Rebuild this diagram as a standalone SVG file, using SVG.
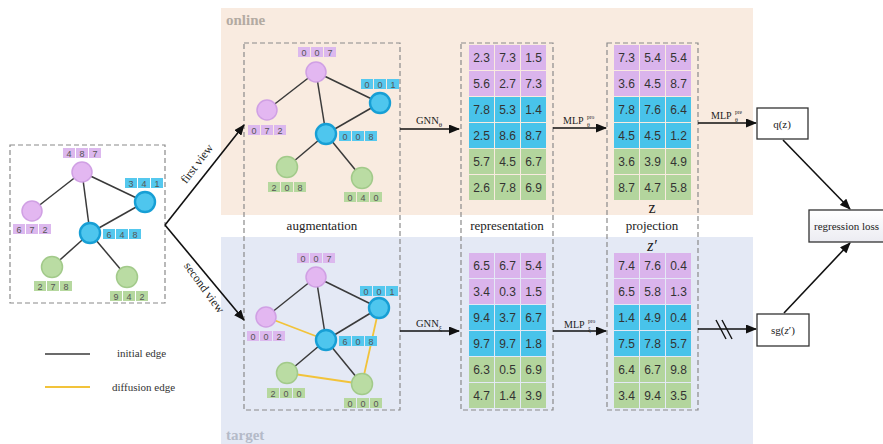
<svg xmlns="http://www.w3.org/2000/svg" width="883" height="444" viewBox="0 0 883 444">
<style>
.sans{font-family:"Liberation Sans",Arial,sans-serif}
.serif{font-family:"Liberation Serif","Times New Roman",serif}
.dash{fill:none;stroke:#8a8a8a;stroke-width:1.2;stroke-dasharray:5,3}
.np{fill:#e3b7f1;stroke:#d0a0e4;stroke-width:1.5}
.nb{fill:#4ec6ee;stroke:#179fd5;stroke-width:2.4}
.ng{fill:#badca3;stroke:#a2ca8a;stroke-width:1.5}
.lp{fill:#dcb8ee}
.lb{fill:#55c8ee}
.lg{fill:#b6d89f}
.lt{font-family:"Liberation Sans",Arial,sans-serif;font-size:9px;fill:#555;text-anchor:middle}
.e{stroke:#3a3a3a;stroke-width:1.5}
.y{stroke:#f2c33a;stroke-width:1.8}
.cp{fill:#dab4ec}
.cb{fill:#48c3ea}
.cg{fill:#b3d59d}
.ct{font-family:"Liberation Sans",Arial,sans-serif;font-size:12px;fill:#333;text-anchor:middle}
.ar{stroke:#111;stroke-width:1.6;fill:none;marker-end:url(#ah)}
.box{fill:#fff;stroke:#333;stroke-width:1.3}
.lbl{font-family:"Liberation Serif","Times New Roman",serif;font-size:13px;fill:#222;text-anchor:middle}
</style>
<defs>
<marker id="ah" markerUnits="userSpaceOnUse" markerWidth="11" markerHeight="9" refX="10" refY="4.5" orient="auto">
<path d="M0,0 L11,4.5 L0,9 z" fill="#111"/>
</marker>
<linearGradient id="rg" x1="0" y1="0" x2="0" y2="1">
<stop offset="0" stop-color="#ffffff"/><stop offset="1" stop-color="#ececf2"/>
</linearGradient>
</defs>
<rect width="883" height="444" fill="#fff"/>
<g id="panels">
<rect x="221" y="8" width="532" height="207" fill="#f9ebe0"/>
<rect x="221" y="237" width="532" height="207" fill="#e4e9f5"/>
<text x="226" y="25" class="serif" font-size="15" font-weight="bold" fill="#b3aaa2">online</text>
<text x="226" y="440" class="serif" font-size="15" font-weight="bold" fill="#b4bac8">target</text>
</g>
<g id="frames">
<rect x="10" y="145" width="155" height="158" class="dash"/>
<rect x="244" y="43" width="156" height="367" class="dash"/>
<rect x="461" y="43" width="92" height="367" class="dash"/>
<rect x="607" y="43" width="91" height="367" class="dash"/>
</g>
<g id="connectors">
<line class="e" x1="82" y1="172" x2="32" y2="211"/>
<line class="e" x1="82" y1="172" x2="145" y2="202"/>
<line class="e" x1="82" y1="172" x2="90" y2="233"/>
<line class="e" x1="145" y1="202" x2="90" y2="233"/>
<line class="e" x1="90" y1="233" x2="52" y2="267"/>
<line class="e" x1="90" y1="233" x2="127" y2="277"/>
<line class="e" x1="316" y1="72" x2="267" y2="110"/>
<line class="e" x1="316" y1="72" x2="380" y2="103"/>
<line class="e" x1="316" y1="72" x2="326" y2="134"/>
<line class="e" x1="380" y1="103" x2="326" y2="134"/>
<line class="e" x1="326" y1="134" x2="287" y2="167"/>
<line class="e" x1="326" y1="134" x2="362" y2="178"/>
<line class="e" x1="316" y1="277" x2="266" y2="317"/>
<line class="e" x1="316" y1="277" x2="379" y2="308"/>
<line class="e" x1="316" y1="277" x2="326" y2="340"/>
<line class="e" x1="379" y1="308" x2="326" y2="340"/>
<line class="e" x1="326" y1="340" x2="287" y2="373"/>
<line class="e" x1="326" y1="340" x2="362" y2="384"/>
<line class="y" x1="266" y1="317" x2="326" y2="340"/>
<line class="y" x1="287" y1="373" x2="362" y2="384"/>
<line class="y" x1="379" y1="308" x2="362" y2="384"/>
<line class="ar" x1="165" y1="225" x2="244" y2="125"/>
<line class="ar" x1="165" y1="225" x2="244" y2="320"/>
<line class="ar" x1="400" y1="129" x2="459" y2="129"/>
<line class="ar" x1="400" y1="331" x2="459" y2="331"/>
<line class="ar" x1="553" y1="128" x2="606" y2="128"/>
<line class="ar" x1="553" y1="331" x2="606" y2="331"/>
<line class="ar" x1="698" y1="123" x2="756" y2="123"/>
<line class="ar" x1="698" y1="329" x2="756" y2="329"/>
<line class="ar" x1="783" y1="140" x2="850" y2="209"/>
<line class="ar" x1="784" y1="313" x2="850" y2="243"/>
<line x1="716" y1="320" x2="726" y2="339" stroke="#111" stroke-width="1.4"/>
<line x1="722" y1="320" x2="732" y2="339" stroke="#111" stroke-width="1.4"/>
<line x1="45" y1="354" x2="90" y2="354" stroke="#3a3a3a" stroke-width="1.6"/>
<line x1="45" y1="387" x2="90" y2="387" stroke="#f2c33a" stroke-width="1.8"/>
</g>
<g id="flow-labels">
<text class="serif" font-size="12" fill="#222" text-anchor="middle" transform="translate(200,166) rotate(-53)">first view</text>
<text class="serif" font-size="12" fill="#222" text-anchor="middle" transform="translate(201,290) rotate(54)">second view</text>
<text x="416" y="124" class="serif" font-size="10.5" fill="#222">GNN<tspan font-size="7" dy="3">θ</tspan></text>
<text x="416" y="327" class="serif" font-size="10.5" fill="#222">GNN<tspan font-size="7" dy="3">ξ</tspan></text>
<text x="563" y="124" class="serif" font-size="10" fill="#222">MLP</text>
<text x="587" y="127" class="serif" font-size="6" fill="#222">θ</text>
<text x="587" y="119" class="serif" font-size="5.5" fill="#222">pro</text>
<text x="564" y="328" class="serif" font-size="10" fill="#222">MLP</text>
<text x="588" y="331" class="serif" font-size="6" fill="#222">ξ</text>
<text x="588" y="323" class="serif" font-size="5.5" fill="#222">pro</text>
<text x="711" y="119" class="serif" font-size="10" fill="#222">MLP</text>
<text x="735" y="122" class="serif" font-size="6" fill="#222">θ</text>
<text x="735" y="114" class="serif" font-size="5.5" fill="#222">pre</text>
<text x="322" y="230" class="lbl">augmentation</text>
<text x="507" y="230" class="lbl">representation</text>
<text x="652" y="230" class="lbl">projection</text>
<text x="652" y="213" class="serif" font-size="16" fill="#222" text-anchor="middle">z</text>
<text x="652" y="251" class="serif" font-size="16" font-style="italic" fill="#222" text-anchor="middle">z′</text>
<text x="117" y="357" class="serif" font-size="11" fill="#333">initial edge</text>
<text x="112" y="391" class="serif" font-size="11" fill="#333">diffusion edge</text>
</g>
<g id="qz"><rect x="757" y="108" width="51" height="31" class="box"/><text x="782" y="128" class="serif" font-size="11" fill="#222" text-anchor="middle">q(z)</text></g>
<g id="sgz"><rect x="757" y="314" width="52" height="32" class="box"/><text x="783" y="334" class="serif" font-size="11" fill="#222" text-anchor="middle">sg(<tspan font-style="italic">z</tspan>′)</text></g>
<g id="loss"><rect x="809" y="210" width="80" height="32" fill="url(#rg)" stroke="#333" stroke-width="1.3"/><text x="814" y="230" class="serif" font-size="11" fill="#222">regression loss</text></g>
<g id="g0-n487"><circle cx="82" cy="172" r="10" class="np"/><rect x="63" y="148" width="12" height="10" class="lp"/><rect x="76" y="148" width="12" height="10" class="lp"/><rect x="89" y="148" width="12" height="10" class="lp"/><text x="69" y="156.5" class="lt">4</text><text x="82" y="156.5" class="lt">8</text><text x="95" y="156.5" class="lt">7</text></g>
<g id="g0-n672"><circle cx="32" cy="211" r="10" class="np"/><rect x="13" y="224" width="12" height="10" class="lp"/><rect x="26" y="224" width="12" height="10" class="lp"/><rect x="39" y="224" width="12" height="10" class="lp"/><text x="19" y="232.5" class="lt">6</text><text x="32" y="232.5" class="lt">7</text><text x="45" y="232.5" class="lt">2</text></g>
<g id="g0-n341"><circle cx="145" cy="202" r="10" class="nb"/><rect x="125" y="178" width="12" height="10" class="lb"/><rect x="138" y="178" width="12" height="10" class="lb"/><rect x="151" y="178" width="12" height="10" class="lb"/><text x="131" y="186.5" class="lt">3</text><text x="144" y="186.5" class="lt">4</text><text x="157" y="186.5" class="lt">1</text></g>
<g id="g0-n648"><circle cx="90" cy="233" r="10" class="nb"/><rect x="103" y="229" width="12" height="10" class="lb"/><rect x="116" y="229" width="12" height="10" class="lb"/><rect x="129" y="229" width="12" height="10" class="lb"/><text x="109" y="237.5" class="lt">6</text><text x="122" y="237.5" class="lt">4</text><text x="135" y="237.5" class="lt">8</text></g>
<g id="g0-n278"><circle cx="52" cy="267" r="10.5" class="ng"/><rect x="34" y="281" width="12" height="10" class="lg"/><rect x="47" y="281" width="12" height="10" class="lg"/><rect x="60" y="281" width="12" height="10" class="lg"/><text x="40" y="289.5" class="lt">2</text><text x="53" y="289.5" class="lt">7</text><text x="66" y="289.5" class="lt">8</text></g>
<g id="g0-n942"><circle cx="127" cy="277" r="10.5" class="ng"/><rect x="110" y="291" width="12" height="10" class="lg"/><rect x="123" y="291" width="12" height="10" class="lg"/><rect x="136" y="291" width="12" height="10" class="lg"/><text x="116" y="299.5" class="lt">9</text><text x="129" y="299.5" class="lt">4</text><text x="142" y="299.5" class="lt">2</text></g>
<g id="g1-n007"><circle cx="316" cy="72" r="10" class="np"/><rect x="298" y="47" width="12" height="10" class="lp"/><rect x="311" y="47" width="12" height="10" class="lp"/><rect x="324" y="47" width="12" height="10" class="lp"/><text x="304" y="55.5" class="lt">0</text><text x="317" y="55.5" class="lt">0</text><text x="330" y="55.5" class="lt">7</text></g>
<g id="g1-n072"><circle cx="267" cy="110" r="10" class="np"/><rect x="248" y="125" width="12" height="10" class="lp"/><rect x="261" y="125" width="12" height="10" class="lp"/><rect x="274" y="125" width="12" height="10" class="lp"/><text x="254" y="133.5" class="lt">0</text><text x="267" y="133.5" class="lt">7</text><text x="280" y="133.5" class="lt">2</text></g>
<g id="g1-n001"><circle cx="380" cy="103" r="10" class="nb"/><rect x="361" y="79" width="12" height="10" class="lb"/><rect x="374" y="79" width="12" height="10" class="lb"/><rect x="387" y="79" width="12" height="10" class="lb"/><text x="367" y="87.5" class="lt">0</text><text x="380" y="87.5" class="lt">0</text><text x="393" y="87.5" class="lt">1</text></g>
<g id="g1-n008"><circle cx="326" cy="134" r="10" class="nb"/><rect x="339" y="131" width="12" height="10" class="lb"/><rect x="352" y="131" width="12" height="10" class="lb"/><rect x="365" y="131" width="12" height="10" class="lb"/><text x="345" y="139.5" class="lt">0</text><text x="358" y="139.5" class="lt">0</text><text x="371" y="139.5" class="lt">8</text></g>
<g id="g1-n208"><circle cx="287" cy="167" r="10.5" class="ng"/><rect x="268" y="182" width="12" height="10" class="lg"/><rect x="281" y="182" width="12" height="10" class="lg"/><rect x="294" y="182" width="12" height="10" class="lg"/><text x="274" y="190.5" class="lt">2</text><text x="287" y="190.5" class="lt">0</text><text x="300" y="190.5" class="lt">8</text></g>
<g id="g1-n040"><circle cx="362" cy="178" r="10.5" class="ng"/><rect x="344" y="192" width="12" height="10" class="lg"/><rect x="357" y="192" width="12" height="10" class="lg"/><rect x="370" y="192" width="12" height="10" class="lg"/><text x="350" y="200.5" class="lt">0</text><text x="363" y="200.5" class="lt">4</text><text x="376" y="200.5" class="lt">0</text></g>
<g id="g2-n007"><circle cx="316" cy="277" r="10" class="np"/><rect x="297" y="253" width="12" height="10" class="lp"/><rect x="310" y="253" width="12" height="10" class="lp"/><rect x="323" y="253" width="12" height="10" class="lp"/><text x="303" y="261.5" class="lt">0</text><text x="316" y="261.5" class="lt">0</text><text x="329" y="261.5" class="lt">7</text></g>
<g id="g2-n002"><circle cx="266" cy="317" r="10" class="np"/><rect x="247" y="331" width="12" height="10" class="lp"/><rect x="260" y="331" width="12" height="10" class="lp"/><rect x="273" y="331" width="12" height="10" class="lp"/><text x="253" y="339.5" class="lt">0</text><text x="266" y="339.5" class="lt">0</text><text x="279" y="339.5" class="lt">2</text></g>
<g id="g2-n001"><circle cx="379" cy="308" r="10" class="nb"/><rect x="360" y="286" width="12" height="10" class="lb"/><rect x="373" y="286" width="12" height="10" class="lb"/><rect x="386" y="286" width="12" height="10" class="lb"/><text x="366" y="294.5" class="lt">0</text><text x="379" y="294.5" class="lt">0</text><text x="392" y="294.5" class="lt">1</text></g>
<g id="g2-n608"><circle cx="326" cy="340" r="10" class="nb"/><rect x="339" y="336" width="12" height="10" class="lb"/><rect x="352" y="336" width="12" height="10" class="lb"/><rect x="365" y="336" width="12" height="10" class="lb"/><text x="345" y="344.5" class="lt">6</text><text x="358" y="344.5" class="lt">0</text><text x="371" y="344.5" class="lt">8</text></g>
<g id="g2-n200"><circle cx="287" cy="373" r="10.5" class="ng"/><rect x="267" y="388" width="12" height="10" class="lg"/><rect x="280" y="388" width="12" height="10" class="lg"/><rect x="293" y="388" width="12" height="10" class="lg"/><text x="273" y="396.5" class="lt">2</text><text x="286" y="396.5" class="lt">0</text><text x="299" y="396.5" class="lt">0</text></g>
<g id="g2-n000"><circle cx="362" cy="384" r="10.5" class="ng"/><rect x="344" y="398" width="12" height="10" class="lg"/><rect x="357" y="398" width="12" height="10" class="lg"/><rect x="370" y="398" width="12" height="10" class="lg"/><text x="350" y="406.5" class="lt">0</text><text x="363" y="406.5" class="lt">0</text><text x="376" y="406.5" class="lt">0</text></g>
<g id="rep-online">
<rect x="469" y="45" width="25" height="25" class="cp"/><rect x="495" y="45" width="25" height="25" class="cp"/><rect x="521" y="45" width="25" height="25" class="cp"/>
<rect x="469" y="71" width="25" height="25" class="cp"/><rect x="495" y="71" width="25" height="25" class="cp"/><rect x="521" y="71" width="25" height="25" class="cp"/>
<rect x="469" y="97" width="25" height="25" class="cb"/><rect x="495" y="97" width="25" height="25" class="cb"/><rect x="521" y="97" width="25" height="25" class="cb"/>
<rect x="469" y="123" width="25" height="25" class="cb"/><rect x="495" y="123" width="25" height="25" class="cb"/><rect x="521" y="123" width="25" height="25" class="cb"/>
<rect x="469" y="149" width="25" height="25" class="cg"/><rect x="495" y="149" width="25" height="25" class="cg"/><rect x="521" y="149" width="25" height="25" class="cg"/>
<rect x="469" y="175" width="25" height="25" class="cg"/><rect x="495" y="175" width="25" height="25" class="cg"/><rect x="521" y="175" width="25" height="25" class="cg"/>
<text x="481.5" y="62" class="ct">2.3</text><text x="507.5" y="62" class="ct">7.3</text><text x="533.5" y="62" class="ct">1.5</text>
<text x="481.5" y="88" class="ct">5.6</text><text x="507.5" y="88" class="ct">2.7</text><text x="533.5" y="88" class="ct">7.3</text>
<text x="481.5" y="114" class="ct">7.8</text><text x="507.5" y="114" class="ct">5.3</text><text x="533.5" y="114" class="ct">1.4</text>
<text x="481.5" y="140" class="ct">2.5</text><text x="507.5" y="140" class="ct">8.6</text><text x="533.5" y="140" class="ct">8.7</text>
<text x="481.5" y="166" class="ct">5.7</text><text x="507.5" y="166" class="ct">4.5</text><text x="533.5" y="166" class="ct">6.7</text>
<text x="481.5" y="192" class="ct">2.6</text><text x="507.5" y="192" class="ct">7.8</text><text x="533.5" y="192" class="ct">6.9</text>
</g>
<g id="rep-target">
<rect x="469" y="253" width="25" height="25" class="cp"/><rect x="495" y="253" width="25" height="25" class="cp"/><rect x="521" y="253" width="25" height="25" class="cp"/>
<rect x="469" y="279" width="25" height="25" class="cp"/><rect x="495" y="279" width="25" height="25" class="cp"/><rect x="521" y="279" width="25" height="25" class="cp"/>
<rect x="469" y="305" width="25" height="25" class="cb"/><rect x="495" y="305" width="25" height="25" class="cb"/><rect x="521" y="305" width="25" height="25" class="cb"/>
<rect x="469" y="331" width="25" height="25" class="cb"/><rect x="495" y="331" width="25" height="25" class="cb"/><rect x="521" y="331" width="25" height="25" class="cb"/>
<rect x="469" y="357" width="25" height="25" class="cg"/><rect x="495" y="357" width="25" height="25" class="cg"/><rect x="521" y="357" width="25" height="25" class="cg"/>
<rect x="469" y="383" width="25" height="25" class="cg"/><rect x="495" y="383" width="25" height="25" class="cg"/><rect x="521" y="383" width="25" height="25" class="cg"/>
<text x="481.5" y="270" class="ct">6.5</text><text x="507.5" y="270" class="ct">6.7</text><text x="533.5" y="270" class="ct">5.4</text>
<text x="481.5" y="296" class="ct">3.4</text><text x="507.5" y="296" class="ct">0.3</text><text x="533.5" y="296" class="ct">1.5</text>
<text x="481.5" y="322" class="ct">9.4</text><text x="507.5" y="322" class="ct">3.7</text><text x="533.5" y="322" class="ct">6.7</text>
<text x="481.5" y="348" class="ct">9.7</text><text x="507.5" y="348" class="ct">9.7</text><text x="533.5" y="348" class="ct">1.8</text>
<text x="481.5" y="374" class="ct">6.3</text><text x="507.5" y="374" class="ct">0.5</text><text x="533.5" y="374" class="ct">6.9</text>
<text x="481.5" y="400" class="ct">4.7</text><text x="507.5" y="400" class="ct">1.4</text><text x="533.5" y="400" class="ct">3.9</text>
</g>
<g id="proj-online">
<rect x="614" y="45" width="25" height="25" class="cp"/><rect x="640" y="45" width="25" height="25" class="cp"/><rect x="666" y="45" width="25" height="25" class="cp"/>
<rect x="614" y="71" width="25" height="25" class="cp"/><rect x="640" y="71" width="25" height="25" class="cp"/><rect x="666" y="71" width="25" height="25" class="cp"/>
<rect x="614" y="97" width="25" height="25" class="cb"/><rect x="640" y="97" width="25" height="25" class="cb"/><rect x="666" y="97" width="25" height="25" class="cb"/>
<rect x="614" y="123" width="25" height="25" class="cb"/><rect x="640" y="123" width="25" height="25" class="cb"/><rect x="666" y="123" width="25" height="25" class="cb"/>
<rect x="614" y="149" width="25" height="25" class="cg"/><rect x="640" y="149" width="25" height="25" class="cg"/><rect x="666" y="149" width="25" height="25" class="cg"/>
<rect x="614" y="175" width="25" height="25" class="cg"/><rect x="640" y="175" width="25" height="25" class="cg"/><rect x="666" y="175" width="25" height="25" class="cg"/>
<text x="626.5" y="62" class="ct">7.3</text><text x="652.5" y="62" class="ct">5.4</text><text x="678.5" y="62" class="ct">5.4</text>
<text x="626.5" y="88" class="ct">3.6</text><text x="652.5" y="88" class="ct">4.5</text><text x="678.5" y="88" class="ct">8.7</text>
<text x="626.5" y="114" class="ct">7.8</text><text x="652.5" y="114" class="ct">7.6</text><text x="678.5" y="114" class="ct">6.4</text>
<text x="626.5" y="140" class="ct">4.5</text><text x="652.5" y="140" class="ct">4.5</text><text x="678.5" y="140" class="ct">1.2</text>
<text x="626.5" y="166" class="ct">3.6</text><text x="652.5" y="166" class="ct">3.9</text><text x="678.5" y="166" class="ct">4.9</text>
<text x="626.5" y="192" class="ct">8.7</text><text x="652.5" y="192" class="ct">4.7</text><text x="678.5" y="192" class="ct">5.8</text>
</g>
<g id="proj-target">
<rect x="614" y="253" width="25" height="25" class="cp"/><rect x="640" y="253" width="25" height="25" class="cp"/><rect x="666" y="253" width="25" height="25" class="cp"/>
<rect x="614" y="279" width="25" height="25" class="cp"/><rect x="640" y="279" width="25" height="25" class="cp"/><rect x="666" y="279" width="25" height="25" class="cp"/>
<rect x="614" y="305" width="25" height="25" class="cb"/><rect x="640" y="305" width="25" height="25" class="cb"/><rect x="666" y="305" width="25" height="25" class="cb"/>
<rect x="614" y="331" width="25" height="25" class="cb"/><rect x="640" y="331" width="25" height="25" class="cb"/><rect x="666" y="331" width="25" height="25" class="cb"/>
<rect x="614" y="357" width="25" height="25" class="cg"/><rect x="640" y="357" width="25" height="25" class="cg"/><rect x="666" y="357" width="25" height="25" class="cg"/>
<rect x="614" y="383" width="25" height="25" class="cg"/><rect x="640" y="383" width="25" height="25" class="cg"/><rect x="666" y="383" width="25" height="25" class="cg"/>
<text x="626.5" y="270" class="ct">7.4</text><text x="652.5" y="270" class="ct">7.6</text><text x="678.5" y="270" class="ct">0.4</text>
<text x="626.5" y="296" class="ct">6.5</text><text x="652.5" y="296" class="ct">5.8</text><text x="678.5" y="296" class="ct">1.3</text>
<text x="626.5" y="322" class="ct">1.4</text><text x="652.5" y="322" class="ct">4.9</text><text x="678.5" y="322" class="ct">0.4</text>
<text x="626.5" y="348" class="ct">7.5</text><text x="652.5" y="348" class="ct">7.8</text><text x="678.5" y="348" class="ct">5.7</text>
<text x="626.5" y="374" class="ct">6.4</text><text x="652.5" y="374" class="ct">6.7</text><text x="678.5" y="374" class="ct">9.8</text>
<text x="626.5" y="400" class="ct">3.4</text><text x="652.5" y="400" class="ct">9.4</text><text x="678.5" y="400" class="ct">3.5</text>
</g>
</svg>
